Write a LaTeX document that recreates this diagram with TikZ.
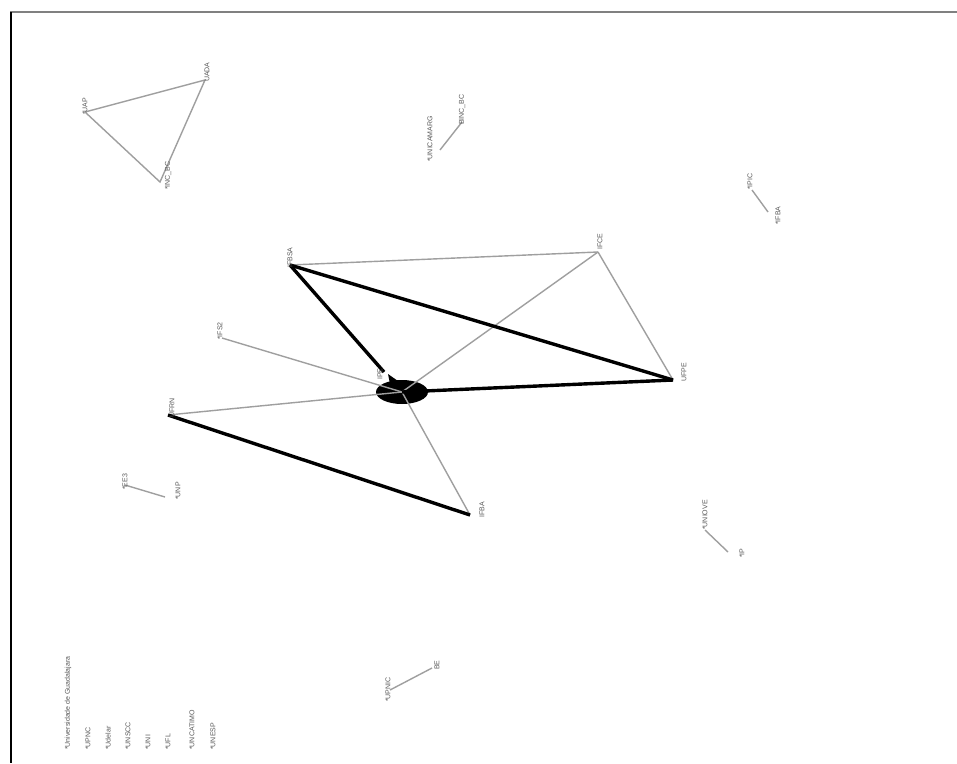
\documentclass[tikz,border=0pt]{standalone}
\usepackage{fontspec}
\setmainfont{Liberation Sans}
\usetikzlibrary{shapes.geometric}
\begin{document}
\begin{tikzpicture}[x=1pt,y=-1pt,
  thin edge/.style={draw=gray!75,line width=1.4pt},
  thick edge/.style={draw=black,line width=3.4pt},
  lab/.style={rotate=90,anchor=west,inner sep=0pt,font=\fontsize{7}{7}\selectfont,text=gray!70!black},
  pt/.style={coordinate}]
\useasboundingbox (0,0) rectangle (957,763);
\fill[white] (0,0) rectangle (957,763);
% frame
\draw[gray,line width=2pt] (10,12) -- (957,12);
\draw[black,line width=2.5pt] (11,12) -- (11,763);
% nodes
\node[pt] (uap) at (85,112) {};
\node[pt] (uada) at (205,80) {};
\node[pt] (incbc) at (160,182) {};
\node[pt] (unic) at (440,150) {};
\node[pt] (binc) at (462,122) {};
\node[pt] (ipic) at (752,190) {};
\node[pt] (ifba2) at (768,212) {};
\node[pt] (ifbsa) at (290,265) {};
\node[pt] (ifce) at (598,252) {};
\node[pt] (ifs2) at (222,338) {};
\node[pt] (ipe) at (384,372) {};
\node[fill=black,ellipse,minimum width=52pt,minimum height=24pt,inner sep=0pt,draw=none] (hub) at (402,392) {};
\node[pt] (ufpe) at (673,380) {};
\node[pt] (ufrn) at (168,415) {};
\node[pt] (ifba) at (470,515) {};
\node[pt] (ee3) at (125,485) {};
\node[pt] (unp) at (165,497) {};
\node[pt] (uniove) at (705,530) {};
\node[pt] (ip) at (728,552) {};
\node[pt] (upnic) at (390,690) {};
\node[pt] (be) at (432,668) {};
% edges
\draw[thin edge] (uap) -- (uada) -- (incbc) -- (uap);
\draw[thin edge] (unic) -- (binc);
\draw[thin edge] (ipic) -- (ifba2);
\draw[thin edge] (ee3) -- (unp);
\draw[thin edge] (uniove) -- (ip);
\draw[thin edge] (upnic) -- (be);
\draw[thin edge] (ifbsa) -- (ifce);
\draw[thin edge] (ifce) -- (hub.center);
\draw[thin edge] (ifce) -- (ufpe);
\draw[thin edge] (ifs2) -- (hub.center);
\draw[thin edge] (ufrn) -- (hub.center);
\draw[thin edge] (hub.center) -- (ifba);
\draw[thick edge] (ifbsa) -- (ufpe);
\draw[thick edge] (ifbsa) -- (ipe);
\draw[thick edge] (hub.center) -- (ufpe);
\draw[thick edge] (ufrn) -- (ifba);
\fill[black] (388,374) -- (398,381) -- (390,384) -- cycle;
% labels
\node[lab] at (85,115) {*UAP};
\node[lab] at (207,82) {UADA};
\node[lab] at (168,190) {*INC\_BC};
\node[lab] at (430,162) {*UNICAMARG};
\node[lab] at (462,125) {BINC\_BC};
\node[lab] at (750,190) {*IPIC};
\node[lab] at (778,225) {*IFBA};
\node[lab] at (290,268) {IFBSA};
\node[lab] at (600,250) {IFCE};
\node[lab] at (220,340) {*IFS2};
\node[lab] at (380,380) {IPE};
\node[lab] at (684,382) {UFPE};
\node[lab] at (172,418) {UFRN};
\node[lab] at (125,490) {*EE3};
\node[lab] at (178,500) {*UNP};
\node[lab] at (482,518) {IFBA};
\node[lab] at (705,530) {*UNIOVE};
\node[lab] at (742,558) {*IP};
\node[lab] at (388,702) {*UPNIC};
\node[lab] at (437,670) {BE};
% legend
\node[lab] at (68,750) {*Universidade de Guadalajara};
\node[lab] at (88,750) {*UPNC};
\node[lab] at (108,750) {*Udelar};
\node[lab] at (128,750) {*UNSCC};
\node[lab] at (148,750) {*UNI};
\node[lab] at (168,750) {*UFL};
\node[lab] at (192,750) {*UNCATIMO};
\node[lab] at (213,750) {*UNESP};
\end{tikzpicture}
\end{document}
